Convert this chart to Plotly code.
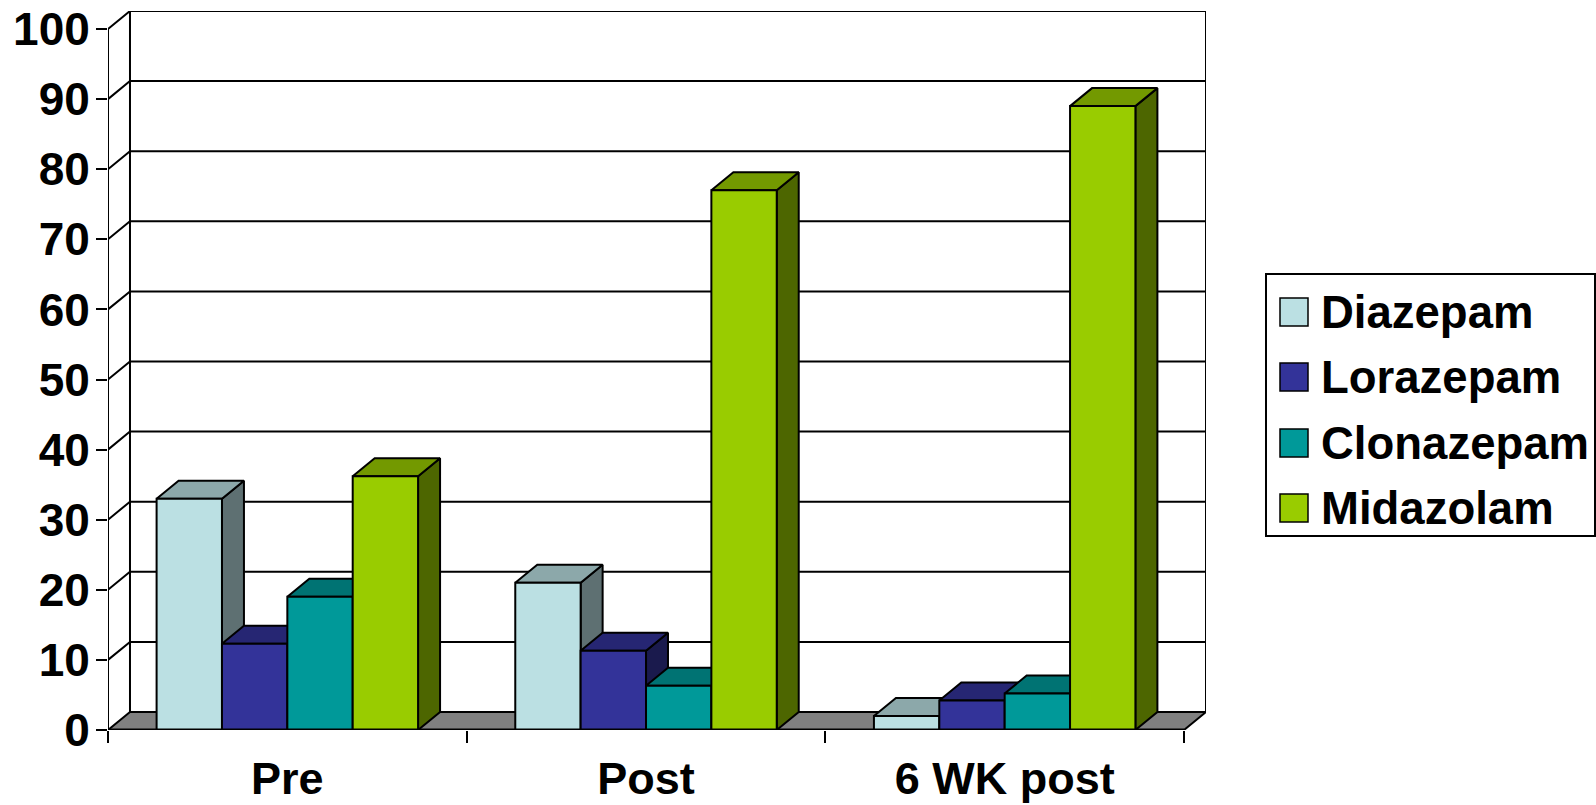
import plotly.graph_objects as go

# Chart data
categories = ["Pre", "Post", "6 WK post"]
diazepam = [33, 21, 2]
lorazepam = [12.3, 11.3, 4.2]
clonazepam = [19, 6.3, 5.2]
midazolam = [36.2, 77, 89]
y_ticks = list(range(0, 101, 10))

series_names = ["Diazepam", "Lorazepam", "Clonazepam", "Midazolam"]
series_values = [diazepam, lorazepam, clonazepam, midazolam]
front_colors = ["#BBE0E3", "#333399", "#009999", "#99CC00"]
top_colors = ["#8CA8AA", "#262673", "#007373", "#739900"]
side_colors = ["#5E7072", "#1A1A4D", "#004D4D", "#4D6600"]

# Extrusion of the pseudo-3D box, in axis units
DEPTH_X = 0.0613
DEPTH_Y = 2.57
BAR_GAP = 0.271
BAR_W = (1 - BAR_GAP) / len(series_names)
X_MIN, X_MAX = -0.5, len(categories) - 0.5
Y_MAX = 100
LW = 2

# Pixel frame of the plot area on the 1596x805 page
WIDTH, HEIGHT = 1596, 805
LEFT, TOP, RIGHT, BOTTOM = 108, 11, 1206, 730


def paper_x(px):
    return (px - LEFT) / (RIGHT - LEFT)


def paper_y(px):
    return (BOTTOM - px) / (BOTTOM - TOP)


def polyline(xs, ys, width=LW, color="#000000"):
    return go.Scatter(x=xs, y=ys, mode="lines", line=dict(color=color, width=width),
                      cliponaxis=False, showlegend=False, hoverinfo="skip")


def polygon(xs, ys, fill):
    return go.Scatter(x=xs, y=ys, mode="lines", fill="toself", fillcolor=fill,
                      line=dict(color="#000000", width=LW), cliponaxis=False,
                      showlegend=False, hoverinfo="skip")


fig = go.Figure()

# Walls and gridlines: slanted on the side wall, horizontal on the back wall
gx, gy = [], []
for v in y_ticks[1:]:
    gx += [X_MIN, X_MIN + DEPTH_X, X_MAX + DEPTH_X, None]
    gy += [v, v + DEPTH_Y, v + DEPTH_Y, None]
fig.add_trace(polyline(gx, gy))
fig.add_trace(polyline(
    [X_MIN, X_MIN, None, X_MIN + DEPTH_X, X_MIN + DEPTH_X, None, X_MAX + DEPTH_X, X_MAX + DEPTH_X],
    [0, Y_MAX, None, DEPTH_Y, Y_MAX + DEPTH_Y, None, DEPTH_Y, Y_MAX + DEPTH_Y],
))

# Floor
fig.add_trace(polygon(
    [X_MIN, X_MAX, X_MAX + DEPTH_X, X_MIN + DEPTH_X, X_MIN],
    [0, 0, DEPTH_Y, DEPTH_Y, 0],
    "#808080",
))

# Side and top faces of each bar, painted left to right
for i, values in enumerate(series_values):
    sx, sy, tx, ty = [], [], [], []
    for c, v in enumerate(values):
        x0 = c - (1 - BAR_GAP) / 2 + i * BAR_W
        x1 = x0 + BAR_W
        sx += [x1, x1 + DEPTH_X, x1 + DEPTH_X, x1, x1, None]
        sy += [0, DEPTH_Y, v + DEPTH_Y, v, 0, None]
        tx += [x0, x1, x1 + DEPTH_X, x0 + DEPTH_X, x0, None]
        ty += [v, v, v + DEPTH_Y, v + DEPTH_Y, v, None]
    fig.add_trace(polygon(sx, sy, side_colors[i]))
    fig.add_trace(polygon(tx, ty, top_colors[i]))

# Front faces sit on an overlaid pair of axes so they cover every side and top face
for i, values in enumerate(series_values):
    fig.add_trace(go.Bar(
        x=list(range(len(categories))), y=values, name=series_names[i],
        marker=dict(color=front_colors[i], line=dict(color="#000000", width=LW)),
        xaxis="x2", yaxis="y2", cliponaxis=False, showlegend=False,
    ))

# Front edge of the floor over the bar bases
fig.add_trace(go.Scatter(
    x=[X_MIN, X_MAX], y=[0, 0], mode="lines", line=dict(color="#000000", width=3),
    xaxis="x2", yaxis="y2", cliponaxis=False, showlegend=False, hoverinfo="skip",
))

x_range = [X_MIN, X_MAX + DEPTH_X]
y_range = [0, Y_MAX + DEPTH_Y]
y_label_font = dict(family="Liberation Sans", size=46, color="#000000", weight=700)
x_label_font = dict(family="Liberation Sans", size=45, color="#000000", weight=700)

fig.update_layout(
    width=WIDTH, height=HEIGHT, autosize=False,
    margin=dict(l=LEFT, r=WIDTH - RIGHT, t=TOP, b=HEIGHT - BOTTOM, pad=0),
    paper_bgcolor="#FFFFFF", plot_bgcolor="#FFFFFF",
    barmode="group", bargap=BAR_GAP, bargroupgap=0, showlegend=False,
    xaxis=dict(
        range=x_range, tickmode="array", tickvals=list(range(len(categories))),
        ticktext=categories, ticks="", tickfont=x_label_font, showgrid=False,
        zeroline=False, showline=False, ticklabelstandoff=18, automargin=False,
        minor=dict(ticks="outside", tickmode="array",
                   tickvals=[c - 0.5 for c in range(len(categories) + 1)],
                   ticklen=12, tickwidth=LW, tickcolor="#000000", showgrid=False),
    ),
    yaxis=dict(
        range=y_range, tickmode="array", tickvals=y_ticks, ticks="outside",
        ticklen=11, tickwidth=LW, tickcolor="#000000", tickfont=y_label_font,
        showgrid=False, zeroline=False, showline=False, ticklabelstandoff=-3,
        automargin=False,
    ),
    xaxis2=dict(range=x_range, overlaying="x", visible=False, anchor="y2", automargin=False),
    yaxis2=dict(range=y_range, overlaying="y", visible=False, anchor="x2", automargin=False),
)

# Legend panel
BOX_L, BOX_T, BOX_R, BOX_B = 1266, 274, 1595, 536
ROW_Y = [312, 377, 443, 508]
SWATCH = 28
SWATCH_X = 1280
TEXT_X = 1319

shapes = [dict(type="rect", xref="paper", yref="paper",
               x0=paper_x(BOX_L), x1=paper_x(BOX_R), y0=paper_y(BOX_B), y1=paper_y(BOX_T),
               line=dict(color="#000000", width=LW), fillcolor="#FFFFFF")]
annotations = []
for name, color, row in zip(series_names, front_colors, ROW_Y):
    shapes.append(dict(type="rect", xref="paper", yref="paper",
                       x0=paper_x(SWATCH_X), x1=paper_x(SWATCH_X + SWATCH),
                       y0=paper_y(row + SWATCH / 2), y1=paper_y(row - SWATCH / 2),
                       line=dict(color="#000000", width=1.5), fillcolor=color))
    annotations.append(dict(xref="paper", yref="paper", x=paper_x(TEXT_X), y=paper_y(row),
                            text=name, showarrow=False, xanchor="left", yanchor="middle",
                            font=dict(family="Liberation Sans", size=45.5, color="#000000", weight=700)))
fig.update_layout(shapes=shapes, annotations=annotations)

fig.write_html("out.html")
